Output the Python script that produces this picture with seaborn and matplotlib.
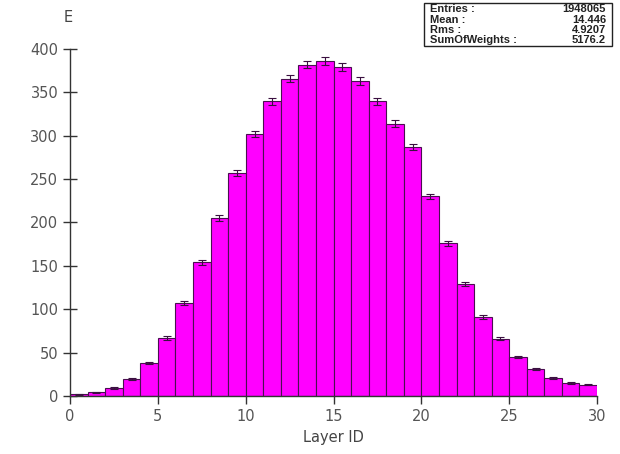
import numpy as np
import pandas as pd
import matplotlib
matplotlib.use("Agg")
import matplotlib.pyplot as plt
import seaborn as sns

# histogram contents (30 bins of width 1, 0..30)
bin_edges = list(range(0, 31))
counts = [2, 4, 9, 19, 38, 67, 107, 154, 205, 257,
          302, 340, 366, 382, 386, 379, 363, 340, 314, 287,
          230, 176, 129, 91, 66, 45, 31, 21, 15, 13]
errors = [0.4, 0.6, 0.9, 1.2, 1.6, 2.0, 2.5, 2.9, 3.3, 3.6,
          3.9, 4.1, 4.3, 4.4, 4.4, 4.4, 4.3, 4.1, 3.9, 3.7,
          3.3, 2.9, 2.5, 2.1, 1.8, 1.5, 1.2, 1.0, 0.8, 0.8]
stat_names = ["Entries :", "Mean :", "Rms :", "SumOfWeights :"]
stat_values = ["1948065", "14.446", "4.9207", "5176.2"]

df = pd.DataFrame({"layer": [e + 0.5 for e in bin_edges[:-1]], "E": counts})

sns.set_style("white")
plt.rcParams['font.family'] = ['DejaVu Sans']

fig = plt.figure(figsize=(6.2, 4.54), dpi=100)
ax = fig.add_axes([0.113, 0.128, 0.85, 0.764])

sns.histplot(data=df, x="layer", weights="E", bins=bin_edges, ax=ax,
             color="#ff00ff", alpha=1.0, edgecolor="#4a1050", linewidth=0.8)
ax.errorbar(df["layer"], df["E"], yerr=errors, fmt="none", ecolor="#3a1040",
            elinewidth=0.8, capsize=3, capthick=0.8)

ax.set_xlim(0, 30)
ax.set_ylim(0, 400)
ax.set_xticks(range(0, 31, 5))
ax.set_yticks(range(0, 401, 50))
for s in ["top", "right"]:
    ax.spines[s].set_visible(False)
for s in ["left", "bottom"]:
    ax.spines[s].set_color("#333333")
    ax.spines[s].set_linewidth(1.0)
ax.tick_params(axis="y", direction="inout", length=10, width=1, color="#333333",
               labelsize=10.5, labelcolor="#555555", left=True)
ax.tick_params(axis="x", direction="out", length=6, width=1, color="#333333",
               labelsize=10.5, labelcolor="#555555", bottom=True)
ax.set_xlabel("Layer ID", fontsize=10.5, color="#444444")
ax.set_ylabel("")
fig.text(68 / 620, 1 - 18 / 454, "E", fontsize=10.5, color="#444444",
         ha="center", va="center")

# statistics box
bx0, by0, bw, bh = 424 / 620, 1 - 46 / 454, 188 / 620, 43 / 454
fig.patches.append(plt.Rectangle((bx0, by0), bw, bh, transform=fig.transFigure,
                                 facecolor="white", edgecolor="#222222", linewidth=1.0))
for i, (n, v) in enumerate(zip(stat_names, stat_values)):
    yy = 1 - (9.5 + i * 10.3) / 454
    fig.text(bx0 + 6 / 620, yy, n, fontsize=8, fontweight="bold",
             family=["Liberation Sans", "DejaVu Sans"], color="#222222", va="center", ha="left")
    fig.text(bx0 + bw - 6 / 620, yy, v, fontsize=8, fontweight="bold",
             family=["Liberation Sans", "DejaVu Sans"], color="#222222", va="center", ha="right")

fig.savefig("out.png", dpi=100)
